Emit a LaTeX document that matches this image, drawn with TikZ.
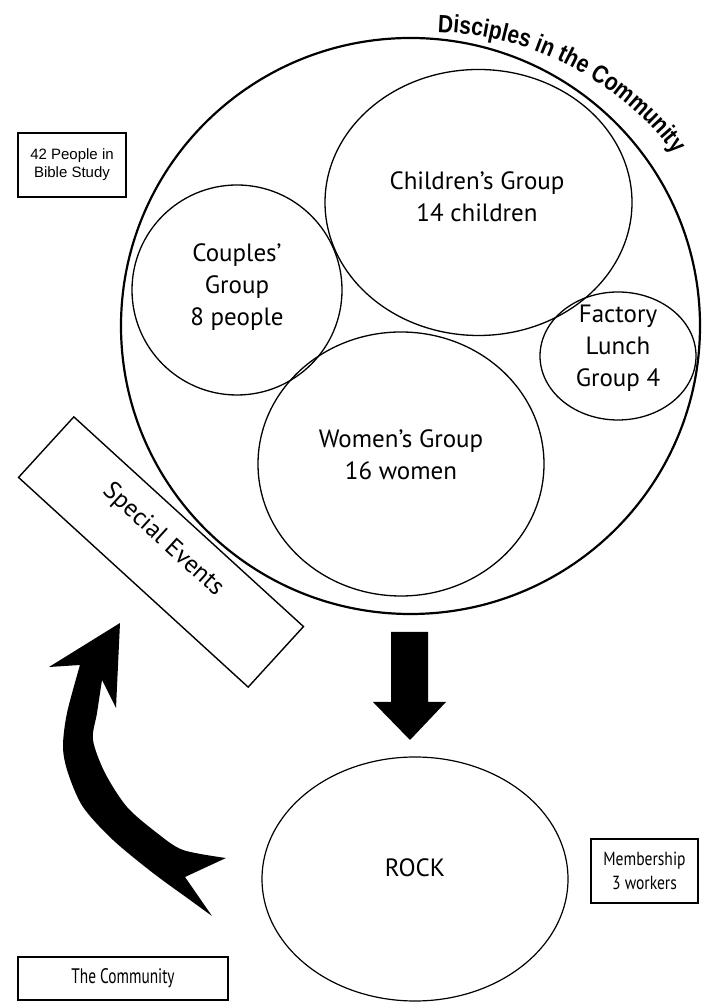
\documentclass[tikz,border=0pt]{standalone}
\usepackage{fontspec}
\setmainfont{PT Sans}
\newfontfamily\arialfont{Liberation Sans}
\newfontfamily\condfont[FakeStretch=0.82]{PT Sans}
\newfontfamily\narrowfont[FakeStretch=0.73]{PT Sans}
\newfontfamily\titlefont[FakeStretch=0.84]{Liberation Sans Bold}
\usetikzlibrary{shapes.geometric,decorations.text}
\begin{document}
\begin{tikzpicture}[x=1pt,y=1pt,
  oval/.style={draw, ellipse, inner sep=0pt, line width=1.3pt},
  lbl/.style={align=center, font=\fontsize{25}{32}\selectfont, inner sep=0pt},
  sidebox/.style={draw, line width=1.8pt, inner sep=0pt, align=center},
  blockarrow/.style={fill=black, draw=none}]
\useasboundingbox (0,0) rectangle (704,1003);
% big circle
\node[oval, line width=2.2pt, minimum width=579pt, minimum height=576pt] (big) at (410.5,677) {};
% inner groups
\node[oval, minimum width=307pt, minimum height=266pt] (child) at (478.5,800.5) {};
\node[oval, minimum width=210pt, minimum height=210pt] (couple) at (237,713) {};
\node[oval, minimum width=156pt, minimum height=128pt] (factory) at (618,647) {};
\node[oval, minimum width=286pt, minimum height=264pt] (women) at (401,539) {};
\node[lbl] (childt) at (477,806) {Children’s Group\\14 children};
\node[lbl] (couplet) at (237,716) {Couples’\\Group\\8 people};
\node[lbl] (factoryt) at (618,655) {Factory\\Lunch\\Group 4};
\node[lbl] (woment) at (401,548) {Women’s Group\\16 women};
% title
\path[decorate, decoration={text along path, text align=left,
  text={|\titlefont\fontsize{25}{25}\selectfont|Disciples in the Community}}]
  ([shift={(88.2:310)}]428,661) arc[start angle=88.2, end angle=15, radius=310];
% side boxes
\node[sidebox, minimum width=108pt, minimum height=64pt,
  font=\arialfont\fontsize{15}{18}\selectfont] (bible) at (72,838) {42 People in\\Bible Study};
\node[sidebox, minimum width=107pt, minimum height=64pt,
  font=\condfont\fontsize{19}{24}\selectfont] (member) at (644.5,132) {Membership\\3 workers};
\node[sidebox, minimum width=210pt, minimum height=43pt,
  font=\narrowfont\fontsize{21}{24}\selectfont] (community) at (123,24.5) {The Community};
% special events
\node[draw, line width=1.4pt, rotate=-42.4, minimum width=311pt, minimum height=82pt, inner sep=0pt, fill=white] (special) at (161,451) {};
\node[rotate=-42.4, font=\fontsize{25}{25}\selectfont, inner sep=0pt] (specialt) at (163,463) {Special Events};
% ROCK
\node[oval, line width=1.2pt, minimum width=306pt, minimum height=244pt] (rock) at (415,124) {};
\node[lbl] (rockt) at (415,135) {ROCK};
% down block arrow
\fill[blockarrow] (391,371) -- (428,371) -- (428,301) -- (446,301) -- (410,263) -- (373,301) -- (391,301) -- cycle;
% curved arrow
\fill[blockarrow] (120,380) -- (49,336)
  -- plot[smooth] coordinates {(80,338) (67,290) (63,256) (68,230) (83,196) (113,163) (153,130) (190,103) (212,87)}
  -- (185,126)
  -- plot[smooth] coordinates {(226,145) (183,153) (157,170) (127,196) (105,230) (93,263) (97,290) (102,323)}
  -- (116,295) -- cycle;
\end{tikzpicture}
\end{document}
